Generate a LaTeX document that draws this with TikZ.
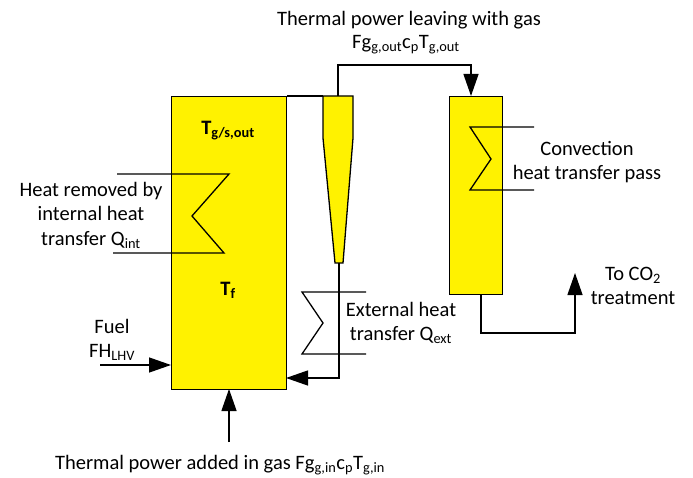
\documentclass[tikz,border=0pt]{standalone}
\usepackage{fontspec}
\setmainfont{Carlito}
\usetikzlibrary{arrows.meta}

\newcommand{\sbs}[1]{\textsubscript{#1}}

\tikzset{
  box/.style={draw, line width=1.3pt, fill=yellow, inner sep=0pt, anchor=north west},
  pipe/.style={line width=1.3pt},
  flow/.style={line width=1.3pt, -{Triangle[length=22pt, width=15pt]}},
  lbl/.style={align=center, font=\fontsize{20.5}{24.5}\selectfont, inner sep=0pt}
}

\begin{document}
\begin{tikzpicture}[x=1pt, y=-1pt]
    \useasboundingbox (0, 0) rectangle (693, 478);

    % units
    \node[box, minimum width=115pt, minimum height=293pt] (furnace) at (171, 96) {};
    \node[box, minimum width=53pt, minimum height=198pt] (conv) at (449, 96) {};

    % cyclone
    \coordinate (C1) at (323, 96);
    \coordinate (C2) at (353, 96);
    \coordinate (C3) at (353, 138);
    \coordinate (C4) at (343, 263);
    \coordinate (C5) at (335, 263);
    \coordinate (C6) at (323, 138);
    \draw[pipe, fill=yellow] (C1) -- (C2) -- (C3) -- (C4) -- (C5) -- (C6) -- cycle;
    \draw[pipe] (furnace.north east) -- (C1);

    % gas to convection pass
    \coordinate (top) at (338, 96);
    \coordinate (conv in) at (471, 96);
    \draw[flow] (top) -- (338, 65) -| (conv in);

    % solids return
    \coordinate (dip) at (339, 263);
    \coordinate (ret) at (286, 378);
    \draw[flow] (dip) |- (ret);

    % exchangers
    \draw[pipe] (117, 174) -- (229, 174) -- (192, 216) -- (224, 253) -- (113, 253);
    \draw[pipe] (366, 292) -- (302, 292) -- (323, 323) -- (302, 354) -- (366, 354);
    \draw[pipe] (534, 127) -- (470, 127) -- (491, 159) -- (470, 190) -- (534, 190);

    % inlets and outlet
    \coordinate (fuel) at (100, 365);
    \coordinate (fuel in) at (171, 365);
    \draw[flow] (fuel) -- (fuel in);
    \coordinate (air) at (229, 442);
    \coordinate (air in) at (229, 389);
    \draw[flow] (air) -- (air in);
    \coordinate (conv out) at (481, 294);
    \coordinate (stack) at (575, 273);
    \draw[flow] (conv out) -- (481, 333) -| (stack);

    % labels
    \node[lbl] (lout) at (409, 20) {Thermal power leaving with gas};
    \node[lbl] (lfout) at (406, 45) {Fg\sbs{g,out}c\sbs{p}T\sbs{g,out}};
    \node[lbl, font=\fontsize{20.5}{24.5}\selectfont\bfseries] (ltop) at (228, 131) {T\sbs{g/s,out}};
    \node[lbl, font=\fontsize{20.5}{24.5}\selectfont\bfseries] (ltf) at (228, 290) {T\sbs{f}};
    \node[lbl] (lint) at (91, 215) {Heat removed by\\internal heat\\transfer Q\sbs{int}};
    \node[lbl] (lext) at (401, 323) {External heat\\transfer Q\sbs{ext}};
    \node[lbl] (lconv) at (587, 162) {Convection\\heat transfer pass};
    \node[lbl] (lco2) at (633, 286) {To CO\sbs{2}\\treatment};
    \node[lbl] (lfuel) at (112, 340) {Fuel\\FH\sbs{LHV}};
    \node[lbl] (lin) at (220, 465) {Thermal power added in gas Fg\sbs{g,in}c\sbs{p}T\sbs{g,in}};

\end{tikzpicture}
\end{document}
